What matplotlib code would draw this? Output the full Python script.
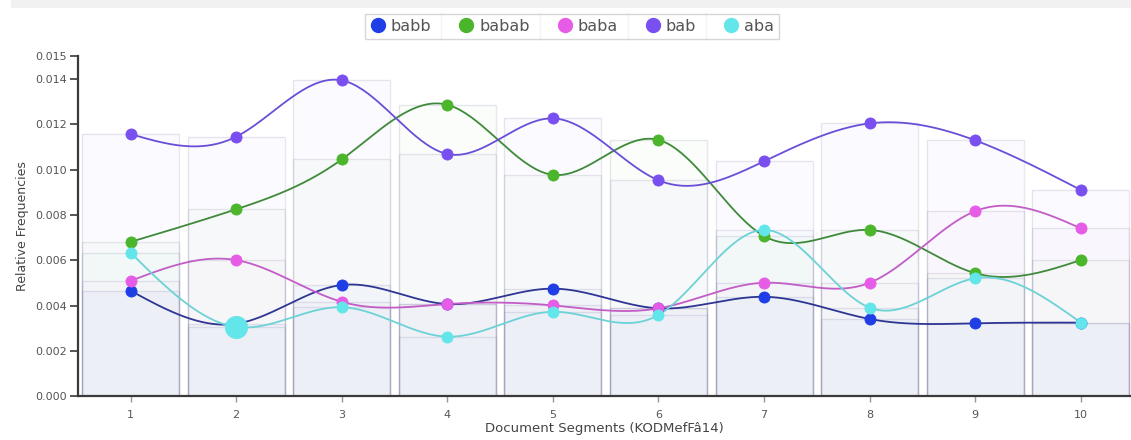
import numpy as np
import matplotlib
matplotlib.use("Agg")
import matplotlib.pyplot as plt
from matplotlib.lines import Line2D
from matplotlib.patches import Rectangle

segments = [1, 2, 3, 4, 5, 6, 7, 8, 9, 10]
series_names = ["babb", "babab", "baba", "bab", "aba"]
babb = [0.00466, 0.00320, 0.00491, 0.00407, 0.00475, 0.00388, 0.00439, 0.00341, 0.00322, 0.00325]
babab = [0.00681, 0.00825, 0.01045, 0.01286, 0.00977, 0.01131, 0.00707, 0.00734, 0.00543, 0.00601]
baba = [0.00509, 0.00601, 0.00417, 0.00407, 0.00401, 0.00388, 0.00501, 0.00501, 0.00817, 0.00741]
bab = [0.01157, 0.01145, 0.01394, 0.01069, 0.01226, 0.00953, 0.01037, 0.01204, 0.01129, 0.00910]
aba = [0.00634, 0.00306, 0.00393, 0.00263, 0.00373, 0.00359, 0.00734, 0.00391, 0.00521, 0.00325]
y_ticks = [0.000, 0.002, 0.004, 0.006, 0.008, 0.010, 0.012, 0.014, 0.015]

data = [babb, babab, baba, bab, aba]
marker_colors = ["#1f3ee6", "#4bb52c", "#e65ce6", "#7a4ff0", "#62e6ea"]
line_colors = ["#2e3592", "#3f8a3a", "#c25cc6", "#6a4ed8", "#6cd2d6"]
highlight = (4, 1)  # series index, segment index shown enlarged


def natural_spline(x, y, n=40):
    x = np.asarray(x, float)
    y = np.asarray(y, float)
    k = len(x)
    h = np.diff(x)
    A = np.zeros((k, k))
    b = np.zeros(k)
    A[0, 0] = 1
    A[-1, -1] = 1
    for i in range(1, k - 1):
        A[i, i - 1] = h[i - 1]
        A[i, i] = 2 * (h[i - 1] + h[i])
        A[i, i + 1] = h[i]
        b[i] = 6 * ((y[i + 1] - y[i]) / h[i] - (y[i] - y[i - 1]) / h[i - 1])
    M = np.linalg.solve(A, b)
    xs, ys = [], []
    for i in range(k - 1):
        t = np.linspace(x[i], x[i + 1], n, endpoint=False)
        a = x[i + 1] - t
        c = t - x[i]
        hi = h[i]
        s = (M[i] * a ** 3 / (6 * hi) + M[i + 1] * c ** 3 / (6 * hi)
             + (y[i] / hi - M[i] * hi / 6) * a + (y[i + 1] / hi - M[i + 1] * hi / 6) * c)
        xs.append(t)
        ys.append(s)
    xs.append([x[-1]])
    ys.append([y[-1]])
    return np.concatenate(xs), np.concatenate(ys)


plt.rcParams['font.family'] = ['DejaVu Sans']
W, H = 1131, 440
fig = plt.figure(figsize=(W / 100, H / 100), dpi=100)
fig.patch.set_facecolor("white")

# light gray band at the top of the page
fig.patches.append(Rectangle((11 / W, 1 - 8 / H), 1, 8 / H, transform=fig.transFigure,
                             facecolor="#f1f1f1", edgecolor="none", zorder=0))

left = 77.7 / W
bottom = (H - 396.3) / H
ax = fig.add_axes([left, bottom, 1 - left, 340 / H])
ax.set_facecolor("white")

x = np.array(segments, float)
bar_w = 0.92
for vals, mc in zip(data, marker_colors):
    ax.bar(x, vals, width=bar_w, facecolor=mc, alpha=0.022, edgecolor="none", zorder=1)
    ax.bar(x, vals, width=bar_w, facecolor="none", edgecolor=(0.42, 0.42, 0.58, 0.15),
           linewidth=1.0, zorder=1.5)

for si, (vals, mc, lc) in enumerate(zip(data, marker_colors, line_colors)):
    xs, ys = natural_spline(x, vals)
    ax.plot(xs, ys, color=lc, linewidth=1.3, zorder=2 + si * 0.1)
for si, (vals, mc, lc) in enumerate(zip(data, marker_colors, line_colors)):
    for j, v in enumerate(vals):
        ms = 16 if (si, j) == highlight else 8
        ax.plot([x[j]], [v], marker="o", markersize=ms, color=mc,
                markeredgecolor=mc, markeredgewidth=0.6, linestyle="none", zorder=3 + si * 0.1)

ax.set_xlim(0.5, 0.5 + (W - 77.7) / 105.6)
ax.set_ylim(0, 0.015)
ax.set_xticks(segments)
ax.set_xticklabels([str(s) for s in segments])
ax.set_yticks(y_ticks)
ax.set_yticklabels([f"{t:.3f}" for t in y_ticks])
for s in ["top", "right"]:
    ax.spines[s].set_visible(False)
for s in ["left", "bottom"]:
    ax.spines[s].set_color("#3a3a3a")
    ax.spines[s].set_linewidth(1.6)
ax.tick_params(axis="y", direction="out", length=6, width=1.2, color="#3a3a3a",
               labelsize=8, labelcolor="#555555", pad=2)
ax.tick_params(axis="x", direction="out", length=4, width=1.0, color="#999999",
               labelsize=8, labelcolor="#555555", pad=6)
ax.set_ylabel("Relative Frequencies", fontsize=9, color="#444444", labelpad=4)
ax.set_xlabel("Document Segments (KODMefFâ14)", fontsize=9.5, color="#444444", labelpad=1)

handles = [Line2D([], [], marker="o", linestyle="none", markersize=10, color=mc) for mc in marker_colors]
leg = fig.legend(handles, series_names, loc="center", bbox_to_anchor=(572 / W, 1 - 26.5 / H),
                 ncol=5, frameon=True, fancybox=False, fontsize=11.5, handletextpad=0.3,
                 columnspacing=1.7, handlelength=1.0, borderpad=0.3, borderaxespad=0,
                 labelcolor="#555555")
leg.get_frame().set_edgecolor("#cccccc")
leg.get_frame().set_linewidth(1.0)

fig.canvas.draw()
r = fig.canvas.get_renderer()
texts = leg.get_texts()
fbb = leg.get_frame().get_window_extent(r)
hl = leg.legend_handles
for i in range(len(texts) - 1):
    t_end = texts[i].get_window_extent(r).x1
    h_start = hl[i + 1].get_window_extent(r).x0
    xm = (t_end + h_start) / 2 / W
    fig.add_artist(Line2D([xm, xm], [fbb.y0 / H, fbb.y1 / H], transform=fig.transFigure,
                          color="#cccccc", linewidth=1.0))

fig.savefig("out.png", dpi=100, facecolor="white")
